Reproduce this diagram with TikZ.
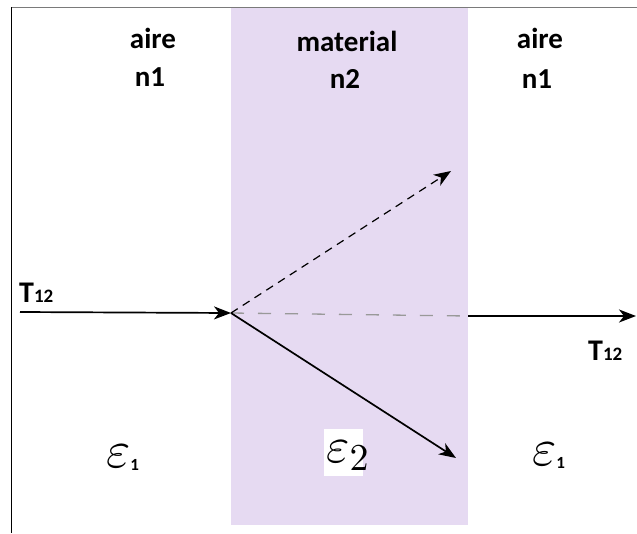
\documentclass[tikz,border=0pt]{standalone}
\usepackage{fontspec}
\usepackage{graphicx}
\setmainfont{Carlito}
\usetikzlibrary{arrows.meta}
\definecolor{lav}{HTML}{E6DAF2}
\definecolor{frameg}{HTML}{7A7A7A}
\tikzset{
  lbl/.style={font=\bfseries\fontsize{29}{29}\selectfont, inner sep=0pt, anchor=base},
  tlbl/.style={inner sep=0pt, anchor=base west},
  epslbl/.style={inner sep=0pt, anchor=base west},
  ray/.style={line width=1.7pt, -{Stealth[length=17pt,width=13pt,inset=5pt]}},
  dray/.style={line width=1.2pt, dash pattern=on 8pt off 6pt, -{Stealth[length=17pt,width=13pt,inset=5pt]}},
  gdash/.style={line width=1.3pt, color=gray!80, dash pattern=on 13pt off 14pt},
}
\newcommand{\Tlab}{{\bfseries\fontsize{30}{30}\selectfont T}{\bfseries\fontsize{19}{19}\selectfont 12}}
\newcommand{\epsone}{\scalebox{5.2}{$\varepsilon$}\raisebox{-3pt}{\bfseries\fontsize{17}{17}\selectfont 1}}
\begin{document}
\begin{tikzpicture}[x=1pt,y=-1pt]
\useasboundingbox (0,0) rectangle (637,533);
\fill[white] (0,0) rectangle (637,533);
% material slab
\fill[lav] (231,8) rectangle (468,525);
% frame
\draw[frameg, line width=1.5pt] (11,7.5) -- (637,7.5);
\draw[black, line width=1.5pt] (11.5,7) -- (11.5,533);
% labels
\node[lbl] (a1) at (153,48) {aire};
\node[lbl] (n1a) at (150,86) {n1};
\node[lbl] (mat) at (347,51) {material};
\node[lbl] (n2) at (345,88) {n2};
\node[lbl] (a2) at (540,48) {aire};
\node[lbl] (n1b) at (537,88) {n1};
\node[tlbl] (tin) at (19,302) {\Tlab};
\node[tlbl] (tout) at (588,360) {\Tlab};
% points
\coordinate (src) at (20,312);
\coordinate (hit) at (231,313);
\coordinate (exitp) at (468,316);
\coordinate (endp) at (636,316);
\coordinate (refl) at (451,171);
\coordinate (refr) at (456,458);
% rays
\draw[ray] (src) -- (hit);
\draw[gdash] (hit) -- (exitp);
\draw[ray] (exitp) -- (endp);
\draw[dray] (hit) -- (refl);
\draw[ray] (hit) -- (refr);
% epsilons
\node[epslbl] (e1) at (106,467) {\epsone};
\fill[white] (324,429) rectangle (363,476);
\node[epslbl] (e2) at (326,462) {\scalebox{5}{$\varepsilon$}\raisebox{-8pt}{\scalebox{3.8}{$2$}}};
\node[epslbl] (e3) at (532,465) {\epsone};
\end{tikzpicture}
\end{document}
